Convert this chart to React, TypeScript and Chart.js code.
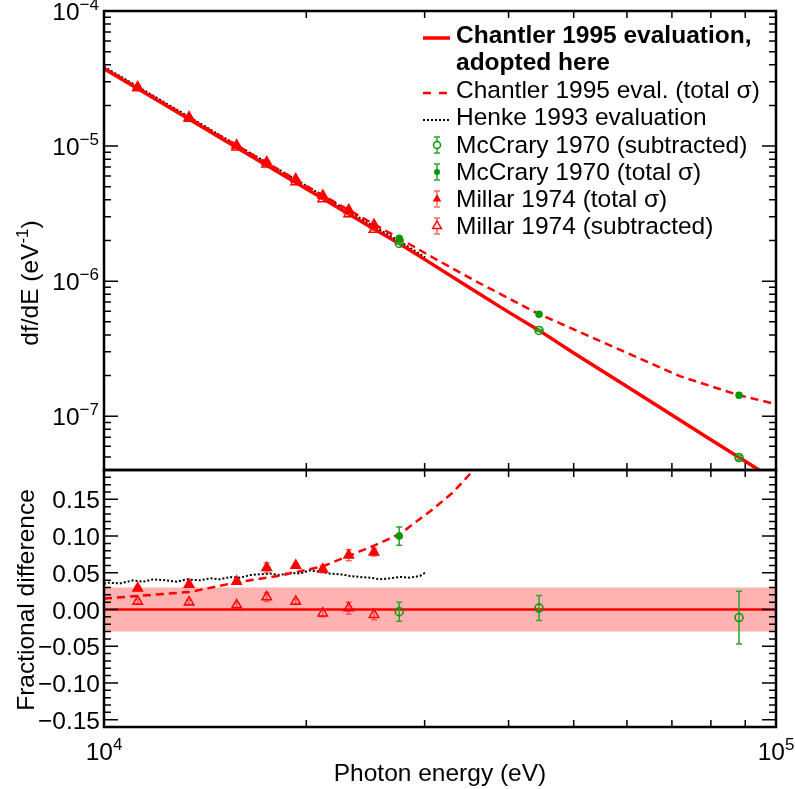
import React, { useEffect, useRef } from "react";
import { Chart, registerables } from "chart.js";

Chart.register(...registerables);

const FONT = '"Liberation Sans", Arial, Helvetica, sans-serif';
const FS = 24.5;
const SUP = 17;
const RED = "#ff0000";
const GREEN = "#009a00";
const RED_ERR = "rgba(255,40,40,0.7)";
const GREEN_ERR = "#2aa52a";
const BAND = "rgba(255,0,0,0.3)";

const W = 795;
const H = 789;

// ---------------- data ----------------
const xRange = [1e4, 1e5];
const upperYRange = [4e-8, 1e-4];
const lowerYRange = [-0.16, 0.19];

// Chantler 1995 evaluation (adopted), df/dE (eV^-1)
const chantlerE = [10000, 12500, 15000, 17500, 20000, 25000, 27500, 30000, 35000, 40000, 44400, 50000, 60000, 70000, 80000, 90000, 100000];
const chantlerDf = [3.74e-5, 1.935e-5, 1.13e-5, 7.16e-6, 4.83e-6, 2.5e-6, 1.9e-6, 1.45e-6, 8.93e-7, 5.9e-7, 4.32e-7, 2.94e-7, 1.66e-7, 1.02e-7, 6.71e-8, 4.64e-8, 3.33e-8];

// Chantler 1995 eval. (total sigma)
const chantlerTotalE = [10000, 13430, 15760, 18280, 21190, 25220, 27580, 30900, 35650, 44400, 71940, 88100, 100000];
const chantlerTotalDf = [3.8e-5, 1.6e-5, 1.013e-5, 6.58e-6, 4.3e-6, 2.64e-6, 2.06e-6, 1.49e-6, 1.007e-6, 5.7e-7, 1.98e-7, 1.43e-7, 1.23e-7];

// Henke 1993 evaluation
const henkeE = [10000, 12500, 15000, 17500, 20000, 22500, 25000, 27500, 30050];
const henkeDf = [3.87e-5, 2.01e-5, 1.175e-5, 7.5e-6, 5.09e-6, 3.57e-6, 2.6e-6, 1.98e-6, 1.5e-6];

// McCrary 1970
const mccraryE = [27500, 44400, 88100];
const mccrarySubDf = [1.9e-6, 4.32e-7, 4.94e-8];
const mccraryTotDf = [2.08e-6, 5.7e-7, 1.43e-7];
const mccrarySubFrac = [-0.003, 0.002, -0.011];
const mccrarySubErr = [0.013, 0.017, 0.036];
const mccraryTotFrac = [0.1, 0.32, 1.89];
const mccraryTotErr = [0.0125, 0.017, 0.036];

// Millar 1974
const millarE = [11224, 13385, 15755, 17464, 19290, 21160, 23130, 25220];
const millarTotDf = [2.734e-5, 1.636e-5, 1.013e-5, 7.62e-6, 5.7e-6, 4.31e-6, 3.37e-6, 2.62e-6];
const millarSubDf = [2.686e-5, 1.598e-5, 9.82e-6, 7.33e-6, 5.43e-6, 4.065e-6, 3.146e-6, 2.413e-6];
const millarTotFrac = [0.029, 0.034, 0.038, 0.057, 0.06, 0.055, 0.074, 0.078];
const millarTotErr = [0.003, 0.003, 0.003, 0.0065, 0.003, 0.005, 0.0075, 0.005];
const millarSubFrac = [0.011, 0.01, 0.006, 0.017, 0.011, -0.005, 0.002, -0.007];
const millarSubErr = [0.003, 0.003, 0.003, 0.006, 0.003, 0.005, 0.008, 0.007];

// fractional difference curves
const totalFracE = [10000, 13430, 15760, 18280, 21190, 25220, 27580, 30900, 33110, 35650, 44400];
const totalFrac = [0.015, 0.024, 0.037, 0.046, 0.059, 0.087, 0.103, 0.137, 0.16, 0.192, 0.32];
const henkeFracE = [10000, 10150, 10560, 11060, 11440, 11840, 12400, 12830, 13280, 13900, 14380, 14890, 15400, 15940, 16500, 17070, 17660, 18280, 18920, 19570, 20260, 20960, 21690, 22450, 23230, 24040, 24880, 25750, 26650, 27580, 28540, 29530, 30050];
const henkeFrac = [0.035, 0.0365, 0.0356, 0.0397, 0.0379, 0.0411, 0.0397, 0.0379, 0.0411, 0.0397, 0.0425, 0.0411, 0.0443, 0.0434, 0.047, 0.048, 0.0489, 0.047, 0.0502, 0.0489, 0.0534, 0.0516, 0.0489, 0.048, 0.0457, 0.0443, 0.0434, 0.0411, 0.0425, 0.0443, 0.0434, 0.0457, 0.0502];
const bandHalfWidth = 0.03;

// ticks / labels
const xDecades = [4, 5];
const upperYDecades = [-4, -5, -6, -7];
const lowerYLabels = [0.15, 0.1, 0.05, 0, -0.05, -0.1, -0.15];
const xTitle = "Photon energy (eV)";
const upperYTitle = "df/dE (eV";
const lowerYTitle = "Fractional difference";
const legendLabels = [
  ["Chantler 1995 evaluation,", "adopted here"],
  ["Chantler 1995 eval. (total σ)"],
  ["Henke 1993 evaluation"],
  ["McCrary 1970 (subtracted)"],
  ["McCrary 1970 (total σ)"],
  ["Millar 1974 (total σ)"],
  ["Millar 1974 (subtracted)"],
];

// ---------------- helpers ----------------
const pts = (xs: number[], ys: number[]) => xs.map((x, i) => ({ x, y: ys[i] }));

function lineDs(data: any[], color: string, width: number, dash: number[], order: number, extra: any = {}) {
  return {
    data,
    borderColor: color,
    backgroundColor: color,
    borderWidth: width,
    borderDash: dash,
    pointRadius: 0,
    showLine: true,
    fill: false,
    tension: 0,
    order,
    ...extra,
  };
}

function markerDs(data: any[], style: string, radius: number, fillColor: string, strokeColor: string, order: number, errors: number[], errColor: string) {
  return {
    data,
    showLine: false,
    pointStyle: style,
    pointRadius: radius,
    pointBackgroundColor: fillColor,
    pointBorderColor: strokeColor,
    pointBorderWidth: 1.5,
    borderColor: strokeColor,
    backgroundColor: fillColor,
    order,
    errorBars: errors,
    errorColor: errColor,
  };
}

function drawPower(ctx: CanvasRenderingContext2D, exp: string, x: number, baseY: number, align: "right" | "center") {
  ctx.font = `${FS}px ${FONT}`;
  const wb = ctx.measureText("10").width;
  ctx.font = `${SUP}px ${FONT}`;
  const we = ctx.measureText(exp).width;
  const total = wb + we;
  const x0 = align === "right" ? x - total : x - total / 2;
  ctx.textAlign = "left";
  ctx.textBaseline = "alphabetic";
  ctx.fillStyle = "#000";
  ctx.font = `${FS}px ${FONT}`;
  ctx.fillText("10", x0, baseY);
  ctx.font = `${SUP}px ${FONT}`;
  ctx.fillText(exp, x0 + wb, baseY - 10);
}

function fmtMinus(v: number) {
  const s = Math.abs(v).toFixed(2);
  return v < 0 ? "\u2212" + s : s;
}

const errorBarPlugin = {
  id: "errorBars",
  beforeDatasetDraw(chart: any, args: any) {
    const ds = chart.data.datasets[args.index];
    if (!ds.errorBars) return;
    const { ctx, chartArea: a } = chart;
    const xs = args.meta.xScale;
    const ys = args.meta.yScale;
    ctx.save();
    ctx.beginPath();
    ctx.rect(a.left, a.top, a.right - a.left, a.bottom - a.top);
    ctx.clip();
    ctx.strokeStyle = ds.errorColor;
    ctx.lineWidth = 1.5;
    ds.data.forEach((p: any, i: number) => {
      const e = ds.errorBars[i];
      const px = xs.getPixelForValue(p.x);
      const y1 = ys.getPixelForValue(p.y - e);
      const y2 = ys.getPixelForValue(p.y + e);
      ctx.beginPath();
      ctx.moveTo(px, y1);
      ctx.lineTo(px, y2);
      ctx.moveTo(px - 3, y1);
      ctx.lineTo(px + 3, y1);
      ctx.moveTo(px - 3, y2);
      ctx.lineTo(px + 3, y2);
      ctx.stroke();
    });
    ctx.restore();
  },
};

function drawFrameAndTicks(chart: any, yMajor: number[], yMinor: number[]) {
  const { ctx, chartArea: a } = chart;
  const x = chart.scales.x;
  const y = chart.scales.y;
  ctx.save();
  ctx.strokeStyle = "#000";
  ctx.lineWidth = 1.5;
  ctx.beginPath();
  const tick = (v: number, len: number) => {
    const py = y.getPixelForValue(v);
    ctx.moveTo(a.left, py);
    ctx.lineTo(a.left + len, py);
    ctx.moveTo(a.right, py);
    ctx.lineTo(a.right - len, py);
  };
  yMajor.forEach((v) => tick(v, 14));
  yMinor.forEach((v) => tick(v, 7));
  for (let m = 2; m <= 9; m++) {
    const px = x.getPixelForValue(m * xRange[0]);
    ctx.moveTo(px, a.top);
    ctx.lineTo(px, a.top + 7);
    ctx.moveTo(px, a.bottom);
    ctx.lineTo(px, a.bottom - 7);
  }
  ctx.stroke();
  ctx.lineWidth = 2.5;
  ctx.strokeRect(a.left, a.top, a.right - a.left, a.bottom - a.top);
  ctx.restore();
}

function drawRotatedTitle(ctx: CanvasRenderingContext2D, cx: number, cy: number, text: string, sup: string, tail: string) {
  ctx.save();
  ctx.translate(cx, cy);
  ctx.rotate(-Math.PI / 2);
  ctx.fillStyle = "#000";
  ctx.textBaseline = "alphabetic";
  ctx.textAlign = "left";
  ctx.font = `${FS}px ${FONT}`;
  const w1 = ctx.measureText(text).width;
  const w3 = ctx.measureText(tail).width;
  ctx.font = `${SUP}px ${FONT}`;
  const w2 = sup ? ctx.measureText(sup).width : 0;
  const total = w1 + w2 + w3;
  let x0 = -total / 2;
  ctx.font = `${FS}px ${FONT}`;
  ctx.fillText(text, x0, 0);
  if (sup) {
    ctx.font = `${SUP}px ${FONT}`;
    ctx.fillText(sup, x0 + w1, -10);
  }
  ctx.font = `${FS}px ${FONT}`;
  ctx.fillText(tail, x0 + w1 + w2, 0);
  ctx.restore();
}

function legendMarker(ctx: CanvasRenderingContext2D, kind: string, x: number, y: number) {
  ctx.save();
  if (kind === "solid" || kind === "dashed" || kind === "dotted") {
    ctx.beginPath();
    ctx.strokeStyle = kind === "dotted" ? "#000" : RED;
    ctx.lineWidth = kind === "solid" ? 3.5 : kind === "dashed" ? 2.5 : 2;
    ctx.setLineDash(kind === "solid" ? [] : kind === "dashed" ? [8, 8] : [2, 2]);
    ctx.moveTo(x - 14, y);
    ctx.lineTo(x + 13, y);
    ctx.stroke();
  } else {
    const green = kind.startsWith("mc");
    ctx.strokeStyle = green ? GREEN_ERR : RED_ERR;
    ctx.lineWidth = 1.5;
    ctx.beginPath();
    ctx.moveTo(x, y - 8);
    ctx.lineTo(x, y + 8);
    ctx.moveTo(x - 3, y - 8);
    ctx.lineTo(x + 3, y - 8);
    ctx.moveTo(x - 3, y + 8);
    ctx.lineTo(x + 3, y + 8);
    ctx.stroke();
    ctx.lineWidth = 1.5;
    if (green) {
      ctx.beginPath();
      ctx.arc(x, y, kind === "mcSub" ? 3.5 : 3, 0, Math.PI * 2);
      if (kind === "mcSub") {
        ctx.fillStyle = "#fff";
        ctx.fill();
        ctx.strokeStyle = GREEN;
        ctx.stroke();
      } else {
        ctx.fillStyle = GREEN;
        ctx.fill();
      }
    } else {
      const r = 5;
      ctx.beginPath();
      ctx.moveTo(x, y - r);
      ctx.lineTo(x + r * 0.866, y + r * 0.5);
      ctx.lineTo(x - r * 0.866, y + r * 0.5);
      ctx.closePath();
      if (kind === "milTot") {
        ctx.fillStyle = RED;
        ctx.fill();
      } else {
        ctx.fillStyle = "#fff";
        ctx.fill();
        ctx.strokeStyle = RED;
        ctx.stroke();
      }
    }
  }
  ctx.restore();
}

const upperDecorPlugin = {
  id: "upperDecor",
  afterDraw(chart: any) {
    const { ctx } = chart;
    const yMajor = upperYDecades.map((d) => Math.pow(10, d));
    const yMinor: number[] = [];
    for (let d = -8; d <= -5; d++) {
      for (let m = 2; m <= 9; m++) {
        const v = m * Math.pow(10, d);
        if (v >= upperYRange[0] && v <= upperYRange[1]) yMinor.push(v);
      }
    }
    drawFrameAndTicks(chart, yMajor, yMinor);
    const y = chart.scales.y;
    upperYDecades.forEach((d) => {
      const py = y.getPixelForValue(Math.pow(10, d));
      drawPower(ctx, "\u2212" + Math.abs(d), 99, py + 9, "right");
    });
    drawRotatedTitle(ctx, 38, 283, upperYTitle, "-1", ")");

    // legend
    const kinds = ["solid", "dashed", "dotted", "mcSub", "mcTot", "milTot", "milSub"];
    const rowY = [35, 90, 117, 145, 172, 199, 226];
    ctx.save();
    ctx.fillStyle = "#000";
    ctx.textAlign = "left";
    ctx.textBaseline = "middle";
    legendLabels.forEach((lines, i) => {
      const yc = rowY[i];
      legendMarker(ctx, kinds[i], 437, yc + (i < 3 ? 3 : 0));
      ctx.font = `${i === 0 ? "bold " : ""}${FS}px ${FONT}`;
      lines.forEach((t, j) => {
        ctx.fillStyle = "#000";
        ctx.fillText(t, 456, yc + j * 27.5 + 1);
      });
    });
    ctx.restore();
  },
};

const lowerDecorPlugin = {
  id: "lowerDecor",
  afterDraw(chart: any) {
    const { ctx } = chart;
    const yMajor: number[] = [];
    const yMinor: number[] = [];
    for (let k = -16; k <= 19; k++) {
      if (k % 5 === 0) yMajor.push(k / 100);
      else yMinor.push(k / 100);
    }
    drawFrameAndTicks(chart, yMajor, yMinor);
    const y = chart.scales.y;
    const x = chart.scales.x;
    ctx.save();
    ctx.fillStyle = "#000";
    ctx.font = `${FS}px ${FONT}`;
    ctx.textAlign = "right";
    ctx.textBaseline = "alphabetic";
    lowerYLabels.forEach((v) => {
      const py = y.getPixelForValue(v);
      ctx.fillText(fmtMinus(v), 100, py + 9);
    });
    ctx.restore();
    xDecades.forEach((d) => {
      const px = x.getPixelForValue(Math.pow(10, d));
      drawPower(ctx, String(d), px, 760, "center");
    });
    ctx.save();
    ctx.fillStyle = "#000";
    ctx.font = `${FS}px ${FONT}`;
    ctx.textAlign = "center";
    ctx.textBaseline = "alphabetic";
    ctx.fillText(xTitle, (chart.chartArea.left + chart.chartArea.right) / 2, 781);
    ctx.restore();
    drawRotatedTitle(ctx, 34, 600, lowerYTitle, "", "");
  },
};

function baseOptions(yType: string, yRange: number[], padding: any) {
  return {
    responsive: false,
    maintainAspectRatio: false,
    animation: false,
    events: [],
    layout: { padding },
    plugins: { legend: { display: false }, tooltip: { enabled: false } },
    scales: {
      x: { type: "logarithmic", min: xRange[0], max: xRange[1], display: false },
      y: { type: yType, min: yRange[0], max: yRange[1], display: false },
    },
  };
}

function upperConfig(): any {
  const mul = (a: number[], b: number[]) => a.map((v, i) => v * b[i]);
  return {
    type: "line",
    data: {
      datasets: [
        lineDs(pts(henkeE, henkeDf), "#000", 2, [2, 2], 9),
        lineDs(pts(chantlerTotalE, chantlerTotalDf), RED, 2.5, [8, 5], 8),
        lineDs(pts(chantlerE, chantlerDf), RED, 3.5, [], 7),
        markerDs(pts(millarE, millarSubDf), "triangle", 5.5, "rgba(0,0,0,0)", RED, 4, mul(millarSubDf, millarSubErr), RED_ERR),
        markerDs(pts(millarE, millarTotDf), "triangle", 5.5, RED, RED, 3, mul(millarTotDf, millarTotErr), RED_ERR),
        markerDs(pts(mccraryE, mccrarySubDf), "circle", 4, "rgba(0,0,0,0)", GREEN, 2, mul(mccrarySubDf, mccrarySubErr), GREEN_ERR),
        markerDs(pts(mccraryE, mccraryTotDf), "circle", 3, GREEN, GREEN, 1, mul(mccraryTotDf, mccraryTotErr), GREEN_ERR),
      ],
    },
    options: baseOptions("logarithmic", upperYRange, { left: 104, top: 11, right: 19, bottom: H - 470 }),
    plugins: [errorBarPlugin, upperDecorPlugin],
  };
}

function lowerConfig(): any {
  return {
    type: "line",
    data: {
      datasets: [
        lineDs(pts(xRange, [bandHalfWidth, bandHalfWidth]), "rgba(0,0,0,0)", 0, [], 20, { fill: "+1", backgroundColor: BAND }),
        lineDs(pts(xRange, [-bandHalfWidth, -bandHalfWidth]), "rgba(0,0,0,0)", 0, [], 21),
        lineDs(pts(henkeFracE, henkeFrac), "#000", 2, [2, 2], 9),
        lineDs(pts(totalFracE, totalFrac), RED, 2.5, [8, 5], 8),
        lineDs(pts(xRange, [0, 0]), RED, 2.5, [], 7),
        markerDs(pts(millarE, millarSubFrac), "triangle", 5.5, "rgba(0,0,0,0)", RED, 4, millarSubErr, RED_ERR),
        markerDs(pts(millarE, millarTotFrac), "triangle", 5.5, RED, RED, 3, millarTotErr, RED_ERR),
        markerDs(pts(mccraryE, mccrarySubFrac), "circle", 4, "rgba(0,0,0,0)", GREEN, 2, mccrarySubErr, GREEN_ERR),
        markerDs(pts(mccraryE, mccraryTotFrac), "circle", 3, GREEN, GREEN, 1, mccraryTotErr, GREEN_ERR),
      ],
    },
    options: baseOptions("linear", lowerYRange, { left: 104, top: 470, right: 19, bottom: H - 727 }),
    plugins: [errorBarPlugin, lowerDecorPlugin],
  };
}

export default function App() {
  const upperRef = useRef<HTMLCanvasElement>(null);
  const lowerRef = useRef<HTMLCanvasElement>(null);
  useEffect(() => {
    const upper = new Chart(upperRef.current as HTMLCanvasElement, upperConfig());
    const lower = new Chart(lowerRef.current as HTMLCanvasElement, lowerConfig());
    return () => {
      upper.destroy();
      lower.destroy();
    };
  }, []);
  return (
    <div style={{ position: "absolute", left: 0, top: 0, width: W, height: H, background: "#fff" }}>
      <canvas ref={lowerRef} width={W} height={H} style={{ position: "absolute", left: 0, top: 0 }} />
      <canvas ref={upperRef} width={W} height={H} style={{ position: "absolute", left: 0, top: 0 }} />
    </div>
  );
}
